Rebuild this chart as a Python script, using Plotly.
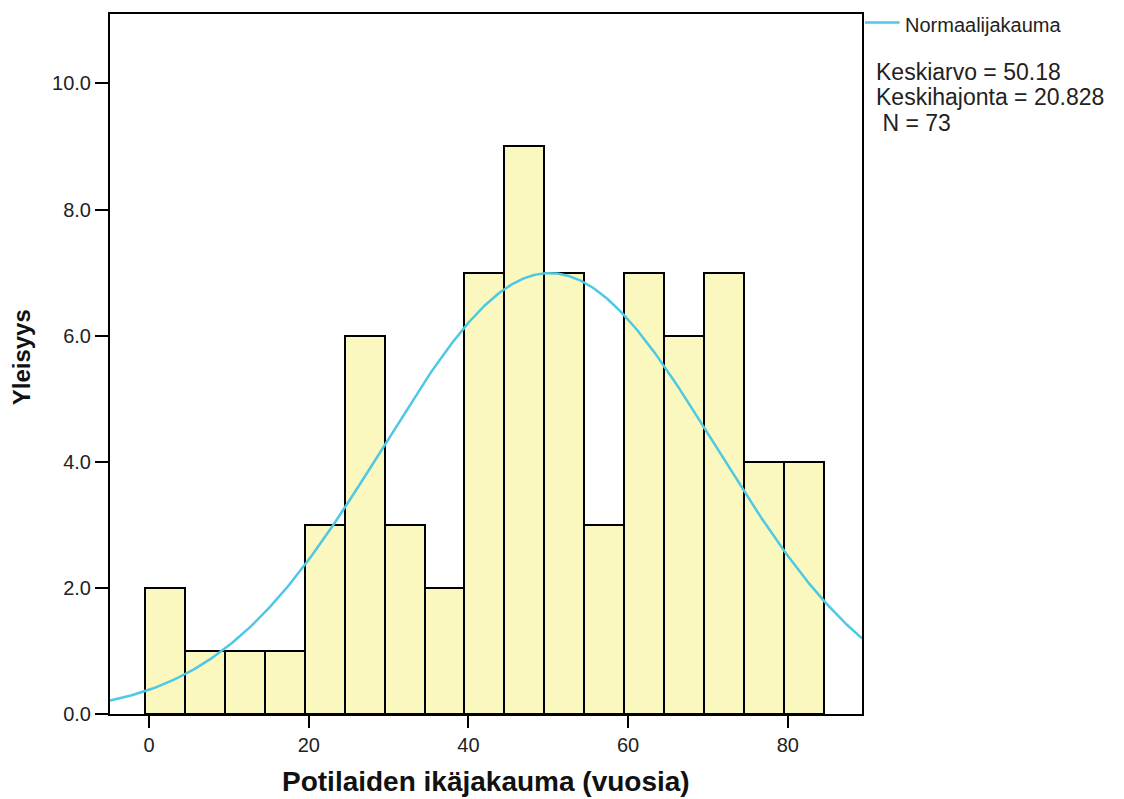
import numpy as np
import plotly.graph_objects as go

# Data
bin_centers = [2, 7, 12, 17, 22, 27, 32, 37, 42, 47, 52, 57, 62, 67, 72, 77, 82]
counts = [2, 1, 1, 1, 3, 6, 3, 2, 7, 9, 7, 3, 7, 6, 7, 4, 4]
bin_width = 5

mean_val = 50.18
sd_val = 20.828
n_val = 73

x_ticks = [0, 20, 40, 60, 80]
y_ticks = [0, 2, 4, 6, 8, 10]
y_tick_labels = ["0.0", "2.0", "4.0", "6.0", "8.0", "10.0"]

legend_label = "Normaalijakauma"
stats_lines = ["Keskiarvo = 50.18", "Keskihajonta = 20.828", " N = 73"]

x_range = [-4.9, 89.3]
y_range = [0, 11.1]

# Normal curve from the stated parameters
xc = np.linspace(x_range[0], x_range[1], 400)
yc = n_val * bin_width / (sd_val * np.sqrt(2 * np.pi)) * np.exp(-0.5 * ((xc - mean_val) / sd_val) ** 2)

FONT = "Liberation Sans, Arial, sans-serif"
CURVE_COLOR = "rgb(78,200,228)"

fig = go.Figure()
fig.add_trace(go.Bar(
    x=bin_centers, y=counts, width=bin_width,
    marker=dict(color="rgb(250,248,190)", line=dict(color="black", width=2)),
    showlegend=False, hoverinfo="x+y",
))
fig.add_trace(go.Scatter(
    x=xc, y=yc, mode="lines", name=legend_label, showlegend=False,
    line=dict(color=CURVE_COLOR, width=2.5),
))

fig.update_layout(
    width=1124, height=799,
    margin=dict(l=110, r=262, t=14, b=85),
    paper_bgcolor="white", plot_bgcolor="white",
    font=dict(family=FONT, color="#222"),
    bargap=0,
    showlegend=False,
    xaxis=dict(
        range=x_range, tickvals=x_ticks, ticktext=[str(v) for v in x_ticks],
        ticks="outside", ticklen=12, tickwidth=2, tickcolor="black",
        showline=True, linecolor="black", linewidth=2, mirror=True,
        showgrid=False, zeroline=False, automargin=False,
        tickfont=dict(size=20, family=FONT, color="#222"),
    ),
    yaxis=dict(
        range=y_range, tickvals=y_ticks, ticktext=y_tick_labels,
        ticks="outside", ticklen=13, tickwidth=2, tickcolor="black",
        showline=True, linecolor="black", linewidth=2, mirror=True,
        showgrid=False, zeroline=False, automargin=False,
        tickfont=dict(size=20, family=FONT, color="#222"),
    ),
)

# Axis titles
fig.add_annotation(
    xref="paper", yref="paper", x=0.5, y=-0.097, xanchor="center", yanchor="middle",
    showarrow=False, text="<b>Potilaiden ikäjakauma (vuosia)</b>",
    font=dict(size=28, family=FONT, color="#111"),
)
fig.add_annotation(
    xref="paper", yref="paper", x=-0.118, y=0.51, xanchor="center", yanchor="middle",
    showarrow=False, text="<b>Yleisyys</b>", textangle=-90,
    font=dict(size=24, family=FONT, color="#111"),
)

# Legend (line sample + label) outside the plot, top right
fig.add_shape(
    type="line", xref="paper", yref="paper", x0=1.004, x1=1.05, y0=0.988, y1=0.988,
    line=dict(color=CURVE_COLOR, width=2.5),
)
fig.add_annotation(
    xref="paper", yref="paper", x=1.055, y=0.984, xanchor="left", yanchor="middle",
    showarrow=False, text=legend_label,
    font=dict(size=20, family=FONT, color="#222"),
)

stat_y = [0.917, 0.881, 0.845]
for txt, yy in zip(stats_lines, stat_y):
    fig.add_annotation(
        xref="paper", yref="paper", x=1.016, y=yy, xanchor="left", yanchor="middle",
        align="left", showarrow=False, text=txt,
        font=dict(size=23, family=FONT, color="#222"),
    )

fig.write_html("out.html")
